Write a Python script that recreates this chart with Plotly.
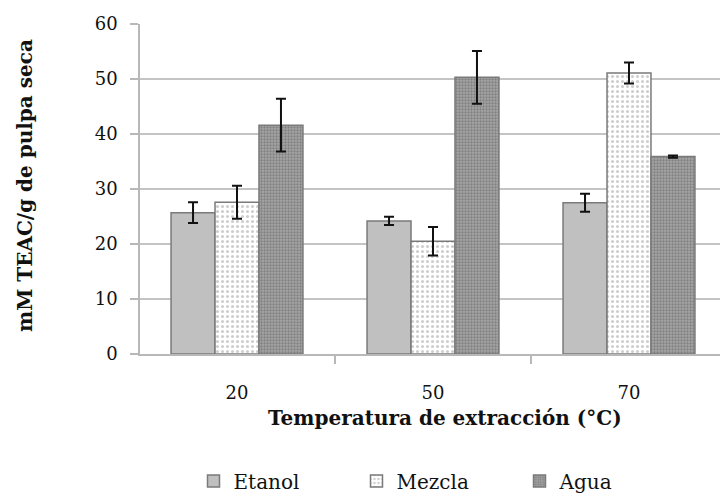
import plotly.graph_objects as go

categories = ["20", "50", "70"]
series_names = ["Etanol", "Mezcla", "Agua"]
etanol = [25.7, 24.2, 27.5]
etanol_err = [1.9, 0.75, 1.65]
mezcla = [27.6, 20.5, 51.1]
mezcla_err = [3.0, 2.6, 1.9]
agua = [41.6, 50.3, 35.9]
agua_err = [4.8, 4.8, 0.2]

xpos = list(range(len(categories)))
SERIF = "DejaVu Serif"

styles = {
    "Etanol": dict(color="#c0c0c0", pattern=dict(shape="")),
    "Mezcla": dict(color="#ffffff", pattern=dict(shape=".", fgcolor="#9c9c9c", bgcolor="#ffffff", size=5, solidity=0.3)),
    "Agua": dict(color="#9a9a9a", pattern=dict(shape=".", fgcolor="#5a5a5a", bgcolor="#a6a6a6", size=3, solidity=0.45)),
}

fig = go.Figure()
for name, vals, errs in [("Etanol", etanol, etanol_err), ("Mezcla", mezcla, mezcla_err), ("Agua", agua, agua_err)]:
    st = styles[name]
    fig.add_trace(go.Bar(
        name=name, x=xpos, y=vals,
        marker=dict(color=st["color"], pattern=st["pattern"], line=dict(color="#7a7a7a", width=1.5)),
        error_y=dict(type="data", array=errs, visible=True, color="#111111", thickness=2, width=5),
    ))

fig.update_layout(
    width=720, height=498,
    margin=dict(l=140, r=0, t=24, b=144),
    paper_bgcolor="white", plot_bgcolor="white",
    barmode="group", bargap=0.327, bargroupgap=0,
    font=dict(family=SERIF, color="#111111", size=18),
    showlegend=True,
    legend=dict(orientation="h", xref="paper", x=(438 - 140) / 580, xanchor="center",
                yref="container", y=(498 - 481) / 498, yanchor="middle",
                font=dict(family=SERIF, size=20, color="#111111"),
                entrywidth=118, entrywidthmode="pixels", itemwidth=30, tracegroupgap=0),
    xaxis=dict(
        range=[-0.5 + (140 - 139) / 196, 2 + (720 - 629) / 196],
        tickmode="array", tickvals=xpos, ticktext=categories, ticks="",
        ticklabelstandoff=22,
        tickfont=dict(family=SERIF, size=18, color="#111111"),
        showline=True, linecolor="#b8b8b8", linewidth=1.5,
        showgrid=False, zeroline=False,
        minor=dict(tickmode="array", tickvals=[0.5, 1.5], ticks="outside", ticklen=8, tickcolor="#b8b8b8", tickwidth=1.5, showgrid=False),
    ),
    yaxis=dict(
        range=[0, 60], dtick=10, tick0=0,
        ticks="outside", ticklen=8, tickcolor="#b8b8b8", tickwidth=1.5,
        ticklabelstandoff=9,
        tickfont=dict(family=SERIF, size=18, color="#111111"),
        showline=True, linecolor="#b8b8b8", linewidth=1.5,
        showgrid=True, gridcolor="#c4c4c4", gridwidth=1.5,
        zeroline=False,
    ),
    annotations=[
        dict(text="<b>Temperatura de extracción (°C)</b>", xref="paper", yref="paper",
             x=(445 - 140) / 580, y=-(418 - 354) / 330, xanchor="center", yanchor="middle",
             showarrow=False, font=dict(family=SERIF, size=20, color="#111111")),
        dict(text="<b>mM TEAC/g de pulpa seca</b>", xref="paper", yref="paper",
             x=-(140 - 25) / 580, y=(354 - 186) / 330, xanchor="center", yanchor="middle",
             textangle=-90, showarrow=False, font=dict(family=SERIF, size=20, color="#111111")),
    ],
)

fig.write_html("out.html")
